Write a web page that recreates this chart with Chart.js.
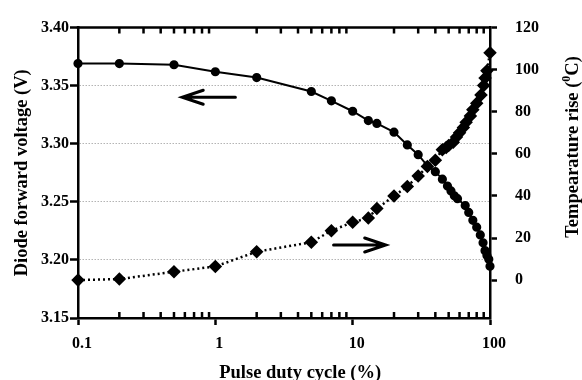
<!DOCTYPE html>
<html>
<head>
    <meta charset="utf-8">
    <title>Diode forward voltage and temperature rise vs pulse duty cycle</title>
    <style>
        body {
            margin: 0;
            background: #fff;
        }
        .chartBox {
            position: relative;
            width: 582px;
            height: 380px;
        }
    </style>
    <script src="https://cdn.jsdelivr.net/npm/chart.js"></script>
</head>
<body>
    <div class="chartBox">
        <canvas id="graph"></canvas>
    </div>

    <script>
        // forward voltage (left axis)
        const dutyV = [0.1, 0.2, 0.5, 1, 2, 5, 7, 10, 13, 15,
                       20, 25, 30, 35, 40, 45, 49, 52, 55, 58,
                       66, 70, 75, 80, 85, 89, 92, 95, 98, 100];
        const voltage = [3.369, 3.369, 3.368, 3.362, 3.357, 3.345, 3.337, 3.328, 3.320, 3.3175,
                         3.310, 3.299, 3.2906, 3.281, 3.276, 3.2695, 3.2636, 3.2594, 3.2552, 3.2527,
                         3.2468, 3.2409, 3.2341, 3.2282, 3.2215, 3.2148, 3.2080, 3.2038, 3.2005, 3.1946];

        // temperature rise (right axis)
        const dutyT = [0.1, 0.2, 0.5, 1, 2, 5, 7, 10, 13, 15,
                       20, 25, 30, 35, 40, 45, 48, 50, 54, 57,
                       60, 64, 67, 72, 75, 80, 86, 90, 92, 95, 100];
        const temp = [0, 0.5, 4, 6.5, 13.5, 18, 23.5, 27.5, 29.5, 34,
                      40, 44.5, 49.5, 54, 57, 62, 63, 64, 65.5, 68,
                      70, 72.5, 75, 78, 81, 84, 88, 92.5, 96, 99.5, 108];

        // axis tick labels
        const xMajor = [0.1, 1, 10, 100];
        const tempTicks = [0, 20, 40, 60, 80, 100, 120];

        // the two arrows pointing at each curve's axis: [x, y] in data units
        const arrowMarks = [
            { from: [1.40, 3.340], to: [0.574, 3.340], axis: 'y' },
            { from: [7.26, 16.7], to: [17.4, 16.7], axis: 'y2' }
        ];

        Chart.defaults.font.family = "'Liberation Serif', 'Times New Roman', serif";
        Chart.defaults.font.weight = 'bold';
        Chart.defaults.color = '#000';

        // top border, inward minor ticks, arrows and the right-hand title
        const frame = {
            id: 'frame',
            afterDraw(chart) {
                const { ctx, chartArea: a, scales } = chart;
                const xs = scales.x;
                ctx.save();
                ctx.strokeStyle = '#000';
                ctx.lineWidth = 2.5;
                ctx.beginPath();
                ctx.moveTo(a.left - 1.25, a.top);
                ctx.lineTo(a.right + 1.25, a.top);
                for (let d = -1; d < 2; d++) {
                    for (let k = 2; k <= 9; k++) {
                        const px = xs.getPixelForValue(k * Math.pow(10, d));
                        ctx.moveTo(px, a.bottom);
                        ctx.lineTo(px, a.bottom - 6);
                        ctx.moveTo(px, a.top);
                        ctx.lineTo(px, a.top + 6);
                    }
                }
                ctx.stroke();

                ctx.lineWidth = 3;
                ctx.lineCap = 'round';
                arrowMarks.forEach(m => {
                    const ys = scales[m.axis];
                    const x1 = xs.getPixelForValue(m.from[0]), y1 = ys.getPixelForValue(m.from[1]);
                    const x2 = xs.getPixelForValue(m.to[0]), y2 = ys.getPixelForValue(m.to[1]);
                    const dir = x2 > x1 ? 1 : -1;
                    ctx.beginPath();
                    ctx.moveTo(x1, y1);
                    ctx.lineTo(x2, y2);
                    ctx.moveTo(x2 - dir * 21, y2 - 7);
                    ctx.lineTo(x2, y2);
                    ctx.lineTo(x2 - dir * 21, y2 + 7);
                    ctx.stroke();
                });

                // right axis title, read bottom to top, with a raised 0
                const s1 = 'Tempearature rise (', s2 = 'C)';
                const mainFont = "bold 18.5px 'Liberation Serif', serif";
                const supFont = "bold 12px 'Liberation Serif', serif";
                ctx.font = mainFont;
                const w1 = ctx.measureText(s1).width, w2 = ctx.measureText(s2).width;
                ctx.font = supFont;
                const ws = ctx.measureText('0').width;
                const total = w1 + ws + w2;
                ctx.translate(572, 147);
                ctx.rotate(-Math.PI / 2);
                ctx.fillStyle = '#000';
                ctx.textBaseline = 'alphabetic';
                ctx.textAlign = 'left';
                let cx = -total / 2;
                ctx.font = mainFont;
                ctx.fillText(s1, cx, 6);
                cx += w1;
                ctx.font = supFont;
                ctx.fillText('0', cx, -2);
                cx += ws;
                ctx.font = mainFont;
                ctx.fillText(s2, cx, 6);
                ctx.restore();
            }
        };

        const ctx = document.getElementById('graph').getContext('2d');
        const myChart = new Chart(ctx, {
            type: 'line',
            data: {
                datasets: [{
                    label: 'Diode forward voltage',
                    data: dutyV.map((d, i) => ({ x: d, y: voltage[i] })),
                    yAxisID: 'y',
                    borderColor: '#000',
                    backgroundColor: '#000',
                    borderWidth: 2,
                    pointStyle: 'circle',
                    pointRadius: 3.6,
                    tension: 0,
                    clip: false
                }, {
                    label: 'Temperature rise',
                    data: dutyT.map((d, i) => ({ x: d, y: temp[i] })),
                    yAxisID: 'y2',
                    borderColor: '#000',
                    backgroundColor: '#000',
                    borderWidth: 2.5,
                    borderDash: [2, 3],
                    pointStyle: 'rectRot',
                    pointRadius: 5,
                    tension: 0,
                    clip: false
                }]
            },
            options: {
                responsive: true,
                maintainAspectRatio: false,
                animation: false,
                layout: { padding: { top: 21, left: 0, right: 0, bottom: 0 } },
                plugins: {
                    legend: { display: false },
                    tooltip: { enabled: false }
                },
                scales: {
                    x: {
                        type: 'logarithmic',
                        position: 'bottom',
                        min: 0.1,
                        max: 100,
                        afterBuildTicks: s => { s.ticks = xMajor.map(v => ({ value: v })); },
                        afterFit: s => { s.height = 62; },
                        ticks: {
                            callback: v => String(v),
                            autoSkip: false,
                            maxRotation: 0,
                            padding: 9,
                            labelOffset: 4,
                            font: { size: 16, weight: 'bold' }
                        },
                        grid: { drawOnChartArea: false, tickLength: 7, tickColor: '#000', tickWidth: 2.5 },
                        border: { color: '#000', width: 2.5 },
                        title: {
                            display: true,
                            text: '       Pulse duty cycle (%)',
                            font: { size: 18.5, weight: 'bold', lineHeight: 1 },
                            padding: { top: 0, bottom: -2 }
                        }
                    },
                    y: {
                        position: 'left',
                        min: 3.15,
                        max: 3.40,
                        afterFit: s => { s.width = 78; },
                        ticks: {
                            stepSize: 0.05,
                            callback: v => v.toFixed(2),
                            padding: 1,
                            font: { size: 16, weight: 'bold' }
                        },
                        grid: { color: '#b4b4b4', lineWidth: 1, tickLength: 8, tickColor: '#000', tickWidth: 2.5 },
                        border: { color: '#000', width: 2.5, dash: [1.5, 1.5] },
                        title: {
                            display: true,
                            text: 'Diode forward voltage (V)',
                            font: { size: 18.5, weight: 'bold', lineHeight: 1 },
                            padding: { top: 13, bottom: 0 }
                        }
                    },
                    y2: {
                        position: 'right',
                        min: -18,
                        max: 120,
                        afterBuildTicks: s => { s.ticks = tempTicks.map(v => ({ value: v })); },
                        afterFit: s => { s.width = 92; },
                        ticks: {
                            padding: 18,
                            font: { size: 16, weight: 'bold' }
                        },
                        grid: { drawOnChartArea: false, tickLength: 7, tickColor: '#000', tickWidth: 2.5 },
                        border: { color: '#000', width: 2.5 }
                    }
                }
            },
            plugins: [frame]
        });
    </script>
</body>
</html>
